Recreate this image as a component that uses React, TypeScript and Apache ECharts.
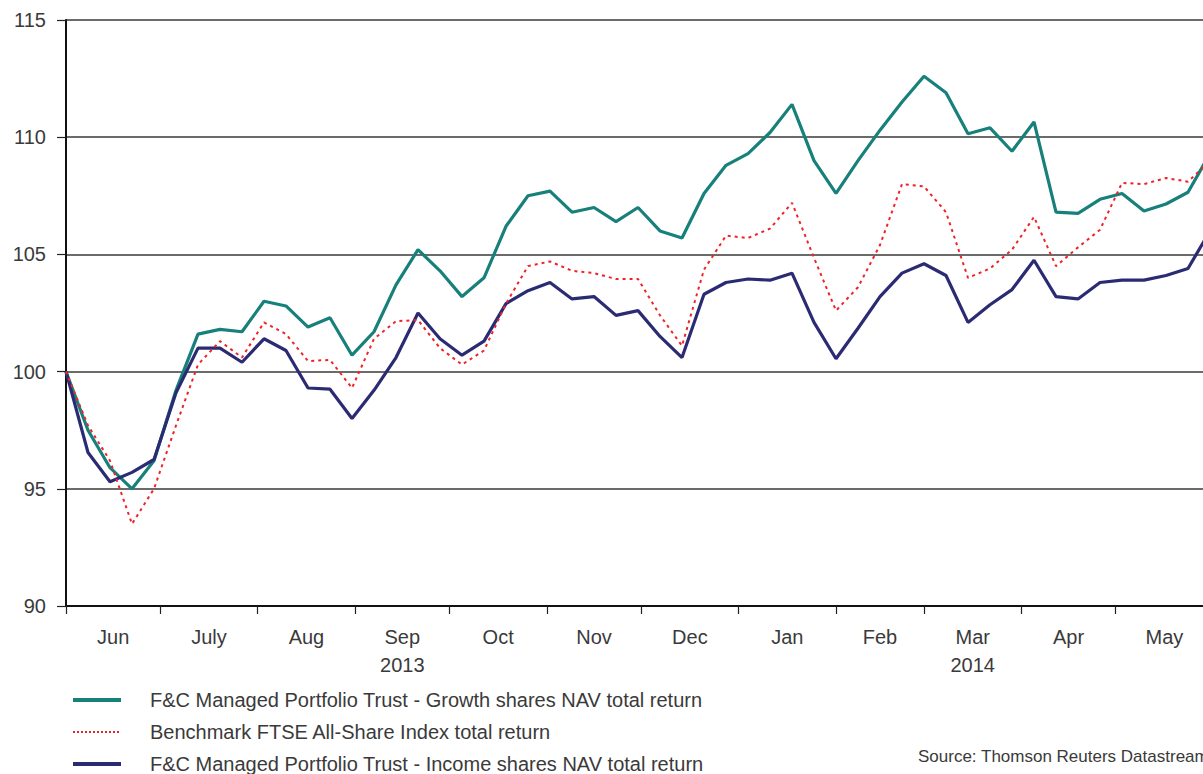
import React, { useEffect, useRef } from 'react';
import * as echarts from 'echarts';

// Weekly observations starting 1 June 2013 (x = days since start)
const weeksCount = 53;
const growthName = 'F&C Managed Portfolio Trust - Growth shares NAV total return';
const benchmarkName = 'Benchmark FTSE All-Share Index total return';
const incomeName = 'F&C Managed Portfolio Trust - Income shares NAV total return';

const growth = [
  100.0, 97.5, 95.9, 95.0, 96.2, 99.2, 101.6, 101.8, 101.7, 103.0,
  102.8, 101.9, 102.3, 100.7, 101.7, 103.7, 105.2, 104.3, 103.2, 104.0,
  106.2, 107.5, 107.7, 106.8, 107.0, 106.4, 107.0, 106.0, 105.7, 107.6,
  108.8, 109.3, 110.2, 111.4, 109.0, 107.6, 109.0, 110.3, 111.5, 112.6,
  111.9, 110.15, 110.4, 109.4, 110.65, 106.8, 106.75, 107.35, 107.6, 106.85,
  107.15, 107.65, 109.3,
];

const benchmark = [
  100.0, 97.7, 96.2, 93.5, 95.0, 97.7, 100.3, 101.3, 100.6, 102.1,
  101.6, 100.45, 100.5, 99.3, 101.4, 102.15, 102.2, 101.0, 100.3, 100.9,
  102.9, 104.5, 104.7, 104.3, 104.2, 103.95, 103.95, 102.4, 101.1, 104.35,
  105.8, 105.7, 106.1, 107.2, 104.85, 102.6, 103.6, 105.4, 108.0, 107.9,
  106.8, 104.0, 104.4, 105.2, 106.6, 104.5, 105.3, 106.05, 108.05, 108.0,
  108.26, 108.1, 109.0,
];

const income = [
  100.0, 96.55, 95.3, 95.7, 96.25, 99.1, 101.0, 101.0, 100.4, 101.4,
  100.9, 99.3, 99.25, 98.0, 99.2, 100.6, 102.5, 101.4, 100.7, 101.3,
  102.9, 103.45, 103.8, 103.1, 103.2, 102.4, 102.6, 101.5, 100.6, 103.3,
  103.8, 103.95, 103.9, 104.2, 102.1, 100.55, 101.85, 103.2, 104.2, 104.6,
  104.1, 102.1, 102.85, 103.5, 104.75, 103.2, 103.1, 103.8, 103.9, 103.9,
  104.1, 104.4, 106.0,
];

const monthLabels = ['Jun', 'July', 'Aug', 'Sep', 'Oct', 'Nov', 'Dec', 'Jan', 'Feb', 'Mar', 'Apr', 'May'];
const monthStartDays = [0, 30, 61, 92, 122, 153, 183, 214, 245, 273, 304, 334, 365];
const yearLabels: Record<string, string> = { Sep: '2013', Mar: '2014' };
const yMin = 90;
const yMax = 115;
const yStep = 5;
const sourceText = 'Source: Thomson Reuters Datastream';

const COLORS = {
  growth: '#17807b',
  benchmark: '#ee2328',
  income: '#2b2b74',
  text: '#3a3a3a',
};

const FONT = '"Liberation Sans", Arial, Helvetica, sans-serif';

export default function App() {
  const ref = useRef<HTMLDivElement>(null);

  useEffect(() => {
    if (!ref.current) return;
    document.body.style.overflow = 'hidden';
    const chart = echarts.init(ref.current, undefined, { renderer: 'svg' });

    const toPoints = (arr: number[]) => arr.slice(0, weeksCount).map((v, i) => [i * 7, v]);
    const midDays = monthLabels.map((_, i) => (monthStartDays[i] + monthStartDays[i + 1]) / 2);

    const option: any = {
      animation: false,
      backgroundColor: '#ffffff',
      textStyle: { fontFamily: FONT, color: COLORS.text },
      grid: { left: 66, right: 30, top: 20, bottom: 204, containLabel: false },
      xAxis: {
        type: 'value',
        min: 0,
        max: (weeksCount - 1) * 7,
        axisLine: { show: true, onZero: false, lineStyle: { color: '#111', width: 2 } },
        axisTick: {
          show: true,
          customValues: monthStartDays,
          length: 8,
          lineStyle: { color: '#222', width: 1.2 },
        },
        axisLabel: {
          show: true,
          customValues: midDays,
          margin: 17,
          fontSize: 20,
          lineHeight: 28,
          color: COLORS.text,
          fontFamily: FONT,
          formatter: (val: number) => {
            const idx = midDays.findIndex((d) => Math.abs(d - val) < 0.01);
            if (idx < 0) return '';
            const m = monthLabels[idx];
            return yearLabels[m] ? m + '\n' + yearLabels[m] : m;
          },
        },
        splitLine: { show: false },
      },
      yAxis: {
        type: 'value',
        min: yMin,
        max: yMax,
        interval: yStep,
        axisLine: { show: true, lineStyle: { color: '#111', width: 2 } },
        axisTick: { show: true, length: 9, lineStyle: { color: '#222', width: 1.2 } },
        axisLabel: { margin: 20, fontSize: 20, color: COLORS.text, fontFamily: FONT },
        splitLine: { show: true, lineStyle: { color: '#3a3a3a', width: 1.5 } },
      },
      legend: {
        orient: 'vertical',
        left: 71,
        top: 690,
        padding: 0,
        itemWidth: 48,
        itemHeight: 20,
        itemGap: 12,
        selectedMode: false,
        data: [
          { name: growthName, lineStyle: { width: 4 } },
          { name: benchmarkName, lineStyle: { width: 2.2, type: [2, 2] } },
          { name: incomeName, lineStyle: { width: 4 } },
        ],
        itemStyle: { opacity: 0 },
        textStyle: {
          fontSize: 20,
          color: COLORS.text,
          fontFamily: FONT,
          padding: [0, 0, 0, 24],
        },
      },
      graphic: [
        {
          type: 'text',
          left: 918,
          top: 748,
          style: { text: sourceText, fontSize: 17, fill: COLORS.text, fontFamily: FONT },
        },
      ],
      series: [
        {
          name: growthName,
          type: 'line',
          data: toPoints(growth),
          symbol: 'none',
          lineStyle: { color: COLORS.growth, width: 3.2 },
          itemStyle: { color: COLORS.growth },
          z: 2,
        },
        {
          name: incomeName,
          type: 'line',
          data: toPoints(income),
          symbol: 'none',
          lineStyle: { color: COLORS.income, width: 3.2 },
          itemStyle: { color: COLORS.income },
          z: 3,
        },
        {
          name: benchmarkName,
          type: 'line',
          data: toPoints(benchmark),
          symbol: 'none',
          lineStyle: { color: COLORS.benchmark, width: 2, type: [3, 4] },
          itemStyle: { color: COLORS.benchmark },
          z: 4,
        },
      ],
    };

    chart.setOption(option);
    return () => {
      chart.dispose();
    };
  }, []);

  return (
    <div
      ref={ref}
      style={{ position: 'fixed', left: 0, top: 0, width: 1240, height: 810, background: '#fff' }}
    />
  );
}
